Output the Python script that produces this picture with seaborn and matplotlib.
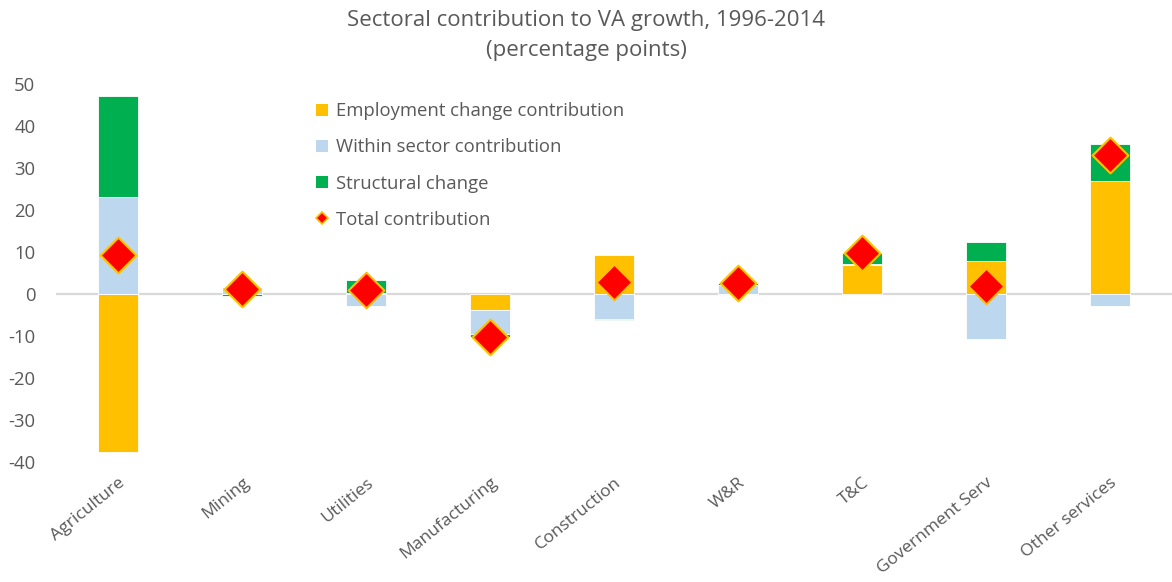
import numpy as np
import pandas as pd
import matplotlib
matplotlib.use("Agg")
import matplotlib.pyplot as plt
import seaborn as sns
from matplotlib.patches import Patch
from matplotlib.lines import Line2D

sectors = ["Agriculture", "Mining", "Utilities", "Manufacturing", "Construction",
           "W&R", "T&C", "Government Serv", "Other services"]
employment = [-37.5, 0.0, 0.3, -3.8, 9.3, 0.1, 6.8, 7.9, 26.8]
within = [23.0, 1.7, -2.8, -5.7, -5.9, 2.0, 0.3, -10.8, -2.9]
structural = [24.0, -0.4, 3.0, -0.7, -0.4, 0.6, 2.7, 4.5, 8.9]
total = [9.3, 1.3, 0.9, -10.2, 2.8, 2.7, 9.8, 1.8, 33.0]

series_names = ["Employment change contribution", "Within sector contribution", "Structural change"]
colors = ["#FFC000", "#BDD7EE", "#00B050"]
gray = "#595959"

sns.set_style("white")
plt.rcParams["font.family"] = ["Open Sans", "DejaVu Sans"]
plt.rcParams["axes.unicode_minus"] = False

fig = plt.figure(figsize=(11.72, 5.82), dpi=100)
ax = fig.add_axes([0.048, 0.206, 0.952, 0.650])

x = np.arange(len(sectors))
pos_bottom = np.zeros(len(sectors))
neg_bottom = np.zeros(len(sectors))
for name, vals, col in zip(series_names, [employment, within, structural], colors):
    vals = np.array(vals)
    bottom = np.where(vals >= 0, pos_bottom, neg_bottom)
    ax.bar(x, vals, bottom=bottom, width=0.32, color=col, edgecolor="white",
           linewidth=0.6, zorder=2)
    pos_bottom += np.where(vals >= 0, vals, 0)
    neg_bottom += np.where(vals < 0, vals, 0)

ax.axhline(0, color="#D9D9D9", linewidth=1.6, zorder=1)

df = pd.DataFrame({"x": x, "total": total})
sns.scatterplot(data=df, x="x", y="total", marker="D", s=330, color="#FF0000",
                edgecolor="#FFC000", linewidth=1.5, zorder=4, ax=ax, legend=False)

ax.set_xlim(-0.5, len(sectors) - 0.5)
ax.set_ylim(-40, 50)
ax.set_yticks(range(-40, 51, 10))
ax.set_xticks(x)
ax.set_xticklabels(sectors, rotation=39, ha="right", rotation_mode="anchor")
ax.tick_params(axis="y", labelsize=13.3, labelcolor=gray, length=0, pad=15)
ax.tick_params(axis="x", labelsize=12.6, labelcolor=gray, length=0, pad=9)
ax.set_xlabel("")
ax.set_ylabel("")
for s in ax.spines.values():
    s.set_visible(False)

handles = [Patch(facecolor=c, edgecolor="none") for c in colors]
handles.append(Line2D([0], [0], marker="D", linestyle="none", markersize=6,
                      markerfacecolor="#FF0000", markeredgecolor="#FFC000",
                      markeredgewidth=1.2))
labels = series_names + ["Total contribution"]
leg = ax.legend(handles, labels, loc="upper left", bbox_to_anchor=(0.218, 0.995),
                frameon=False, fontsize=13.3, labelcolor=gray, handlelength=0.65,
                handleheight=0.65, handletextpad=0.4, labelspacing=0.98)

fig.text(0.5, 0.982, "Sectoral contribution to VA growth, 1996-2014\n(percentage points)",
         ha="center", va="top", fontsize=16, color=gray, linespacing=1.55)

fig.savefig("out.png", dpi=100)
